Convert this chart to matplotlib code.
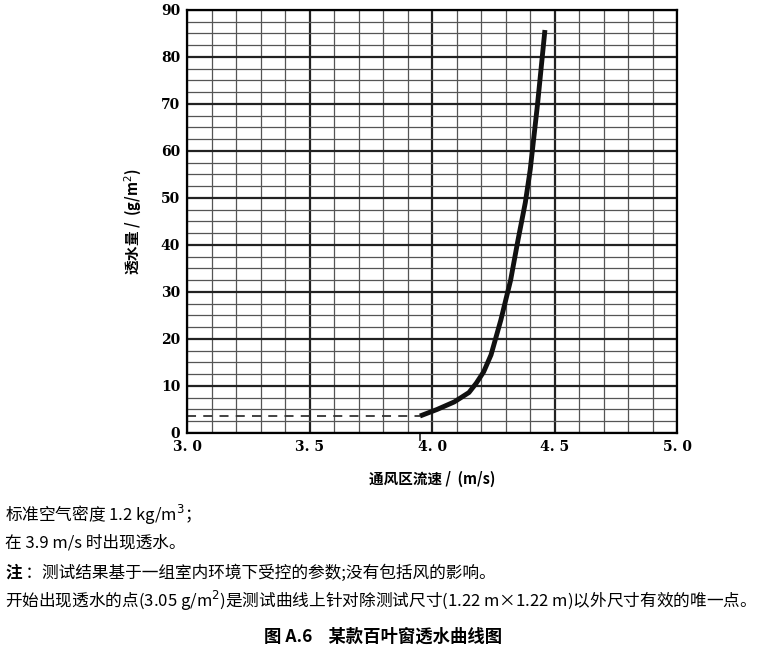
import matplotlib
matplotlib.use("Agg")
import matplotlib.pyplot as plt
import numpy as np

plt.rcParams['font.family'] = ['Noto Sans CJK SC', 'DejaVu Sans']

speed = [3.95, 4.02, 4.09, 4.15, 4.18, 4.21, 4.24, 4.28, 4.32, 4.35, 4.38, 4.40, 4.43, 4.46]
water = [3.6, 5.0, 6.6, 8.6, 10.6, 13.0, 16.6, 24, 32.5, 41, 49, 56, 70, 85.7]
onset_speed = 3.95
onset_water = 3.6

fig = plt.figure(figsize=(7.67, 6.54), dpi=100)
ax = fig.add_axes([0.244, 0.338, 0.639, 0.647])
ax.set_xlim(3.0, 5.0)
ax.set_ylim(0, 90)
for v in np.arange(3.0, 5.001, 0.1):
    major = abs(v*2 - round(v*2)) < 1e-6
    ax.axvline(v, color='#222' if major else '#555', lw=1.6 if major else 0.9, zorder=1)
for v in np.arange(0, 90.01, 2.5):
    major = abs(v/10 - round(v/10)) < 1e-6
    ax.axhline(v, color='#222' if major else '#555', lw=1.6 if major else 0.9, zorder=1)
for s in ax.spines.values():
    s.set_linewidth(1.6)
ax.set_xticks([3.0, 3.5, 4.0, 4.5, 5.0])
ax.set_xticklabels(['3. 0', '3. 5', '4. 0', '4. 5', '5. 0'], family='DejaVu Serif', fontsize=10, fontweight='bold')
ax.set_yticks(range(0, 91, 10))
ax.set_yticklabels([str(v) for v in range(0, 91, 10)], family='DejaVu Serif', fontsize=10, fontweight='bold')
ax.tick_params(length=0, pad=5)
ax.plot(speed, water, color='#111', lw=3.5, zorder=3, solid_capstyle='butt')
ax.plot([3.0, onset_speed], [onset_water, onset_water], color='#333', lw=1.3, ls=(0, (5, 4)), zorder=2)
ax.plot([onset_speed, onset_speed], [-1.5, 0], color='#333', lw=1.3, clip_on=False)
ax.set_xlabel('通风区流速 /  (m/s)', fontsize=10.5, labelpad=12, fontweight='bold')
ax.set_ylabel('透水量 /  (g/m$^2$)', fontsize=10.5, labelpad=12, fontweight='bold')

lines = ['标准空气密度 1.2 kg/m$^3$；',
         '在 3.9 m/s 时出现透水。',
         '　 ：测试结果基于一组室内环境下受控的参数;没有包括风的影响。',
         '开始出现透水的点(3.05 g/m$^2$)是测试曲线上针对除测试尺寸(1.22 m×1.22 m)以外尺寸有效的唯一点。']
ys = [515, 543, 573, 601]
for t, y in zip(lines, ys):
    fig.text(5/767, 1 - y/654, t, fontsize=12, va='center', ha='left')
fig.text(5/767, 1 - 573/654, '注', fontsize=12, va='center', ha='left', fontweight='bold')
fig.text(0.5, 1 - 637/654, '图 A.6    某款百叶窗透水曲线图', fontsize=12.5, fontweight='bold', ha='center', va='center')
fig.savefig('out.png', dpi=100)
